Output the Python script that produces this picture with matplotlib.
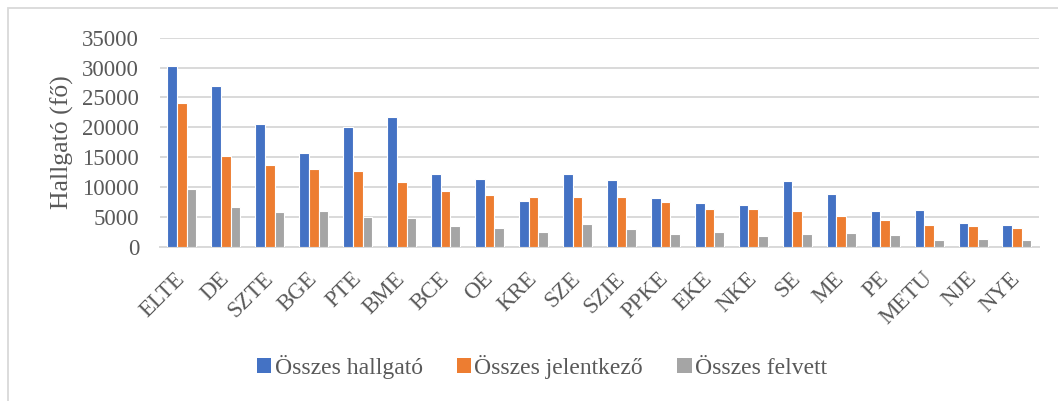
"""Hallgatók, jelentkezők és felvettek egyetemenként"""
import numpy as np
import matplotlib.pyplot as plt
import matplotlib.transforms as mtransforms
from matplotlib.patches import Rectangle


universities = ['ELTE', 'DE', 'SZTE', 'BGE', 'PTE', 'BME', 'BCE', 'OE', 'KRE',
                'SZE', 'SZIE', 'PPKE', 'EKE', 'NKE', 'SE', 'ME', 'PE', 'METU',
                'NJE', 'NYE']
hallgato = [30300, 26900, 20600, 15700, 20100, 21700, 12100, 11300, 7700,
            12200, 11200, 8200, 7300, 6900, 11000, 8900, 5900, 6100, 3900, 3600]
jelentkezo = [24100, 15200, 13700, 13000, 12600, 10900, 9300, 8600, 8400,
              8400, 8300, 7500, 6300, 6300, 5900, 5100, 4400, 3600, 3400, 3200]
felvett = [9700, 6600, 5800, 5900, 4900, 4800, 3500, 3200, 2500, 3800, 2900,
           2200, 2400, 1800, 2100, 2300, 2000, 1100, 1300, 1100]
series_names = ['Összes hallgató', 'Összes jelentkező', 'Összes felvett']
colors = ['#4472C4', '#ED7D31', '#A5A5A5']

TXT = '#595959'
GRID = '#D9D9D9'
SERIF = ['Liberation Serif', 'DejaVu Serif']
plt.rcParams['font.family'] = SERIF

fig = plt.figure(figsize=(10.58, 4.01), dpi=100)
ax = fig.add_axes([0.1512, 0.3848, 0.8308, 0.5212])

# chart frame (only top and left edges show in the crop)
fig.patches.append(Rectangle((8/1058, -0.1), 1.2, 1 - 8/401 + 0.1,
                             transform=fig.transFigure, fill=False,
                             edgecolor=GRID, linewidth=1.3))

x = np.arange(len(universities))
step = 0.22
for i, (vals, name, col) in enumerate(zip([hallgato, jelentkezo, felvett],
                                          series_names, colors)):
    ax.bar(x + (i-1)*step, vals, width=step, color=col, edgecolor='white',
           linewidth=0.8, label=name, zorder=3)

ax.set_xlim(-0.5, len(universities) - 0.5)
ax.set_ylim(0, 35000)
ax.set_yticks(range(0, 35001, 5000))
ax.yaxis.grid(True, color=GRID, linewidth=1.4, zorder=0)
for side in ['top', 'right', 'left']:
    ax.spines[side].set_visible(False)
ax.spines['bottom'].set_color(GRID)
ax.spines['bottom'].set_linewidth(1.4)
ax.tick_params(axis='both', length=0, labelsize=16.5, labelcolor=TXT)
ax.tick_params(axis='y', pad=15)

ax.set_xticks(x)
ax.set_xticklabels(universities, rotation=45, ha='right', va='center',
                   rotation_mode='anchor')
offset = mtransforms.ScaledTranslation(0/100, -24/100, fig.dpi_scale_trans)
for lab in ax.get_xticklabels():
    lab.set_transform(lab.get_transform() + offset)

ax.set_ylabel('Hallgató (fő)', fontsize=18.5, color=TXT, labelpad=6)

leg = fig.legend(loc='center', bbox_to_anchor=(0.5123, 1 - 367/401), ncol=3,
                 frameon=False, fontsize=17, handlelength=0.6,
                 handleheight=0.6, handletextpad=0.15, columnspacing=1.45)
for t in leg.get_texts():
    t.set_fontfamily('Liberation Serif')
    t.set_color(TXT)
for h in leg.legend_handles:
    h.set_edgecolor('none')

plt.savefig('out.png', dpi=100)
